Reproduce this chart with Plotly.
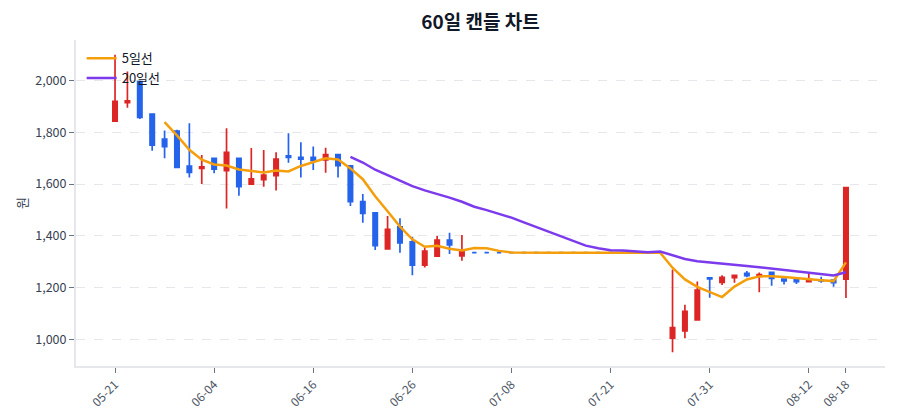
import pandas as pd
import plotly.graph_objects as go

# 거래일 (category axis)
dates = ['05-21', '05-22', '05-23', '05-26', '05-27', '05-28', '05-29', '05-30',
         '06-04', '06-05', '06-06', '06-09', '06-10', '06-11', '06-12', '06-13',
         '06-16', '06-17', '06-18', '06-19', '06-20', '06-23', '06-24', '06-25',
         '06-26', '06-27', '06-30', '07-01', '07-02', '07-03', '07-04', '07-07',
         '07-08', '07-09', '07-10', '07-11', '07-15', '07-16', '07-17', '07-18',
         '07-21', '07-22', '07-23', '07-24', '07-25', '07-28', '07-29', '07-30',
         '07-31', '08-01', '08-04', '08-05', '08-06', '08-07', '08-08', '08-11',
         '08-12', '08-13', '08-14', '08-18']

open_ = [1843, 1915, 1996, 1871, 1774, 1805, 1670, 1661, 1700, 1652,
         1700, 1600, 1617, 1633, 1709, 1703, 1703, 1694, 1714, 1671,
         1532, 1489, 1350, 1435, 1377, 1287, 1322, 1384, 1323, 1335,
         1335, 1335, 1335, 1335, 1335, 1335, 1335, 1335, 1335, 1335,
         1335, 1335, 1335, 1335, 1335, 1005, 1033, 1075, 1238, 1220,
         1238, 1255, 1243, 1259, 1233, 1232, 1223, 1229, 1229, 1233]
high = [2100, 2035, 2000, 1873, 1807, 1810, 1835, 1713, 1702, 1816,
        1702, 1740, 1732, 1723, 1797, 1762, 1745, 1741, 1716, 1673,
        1562, 1492, 1477, 1468, 1397, 1356, 1399, 1412, 1403, 1335,
        1335, 1335, 1335, 1335, 1335, 1335, 1335, 1335, 1335, 1335,
        1335, 1335, 1335, 1335, 1335, 1270, 1134, 1224, 1239, 1248,
        1248, 1264, 1258, 1261, 1234, 1238, 1257, 1242, 1232, 1590]
low = [1843, 1895, 1852, 1729, 1700, 1665, 1626, 1600, 1642, 1506,
       1555, 1597, 1590, 1575, 1683, 1626, 1655, 1644, 1626, 1515,
       1451, 1345, 1348, 1335, 1248, 1278, 1319, 1330, 1304, 1335,
       1335, 1335, 1335, 1335, 1335, 1335, 1335, 1335, 1335, 1335,
       1335, 1335, 1335, 1335, 1335, 950, 1004, 1075, 1161, 1210,
       1219, 1240, 1182, 1207, 1212, 1214, 1222, 1219, 1203, 1160]
close = [1920, 1922, 1858, 1751, 1745, 1665, 1645, 1667, 1658, 1723,
         1590, 1620, 1635, 1697, 1703, 1696, 1691, 1714, 1671, 1532,
         1487, 1362, 1425, 1373, 1287, 1341, 1384, 1365, 1340, 1335,
         1335, 1335, 1335, 1335, 1335, 1335, 1335, 1335, 1335, 1335,
         1335, 1335, 1335, 1335, 1335, 1045, 1108, 1190, 1234, 1240,
         1247, 1246, 1250, 1236, 1226, 1223, 1232, 1226, 1219, 1587]

df = pd.DataFrame({'date': dates, 'open': open_, 'high': high,
                   'low': low, 'close': close})
df['ma5'] = df['close'].rolling(5).mean()
df['ma20'] = df['close'].rolling(20).mean()

RED = '#dc2626'
BLUE = '#2563eb'
FONT = 'Noto Sans CJK KR'

fig = go.Figure()
fig.add_trace(go.Candlestick(
    x=df['date'], open=df['open'], high=df['high'], low=df['low'], close=df['close'],
    increasing=dict(line=dict(color=RED, width=1.7), fillcolor=RED),
    decreasing=dict(line=dict(color=BLUE, width=1.7), fillcolor=BLUE),
    showlegend=False, name='캔들'))
fig.add_trace(go.Scatter(x=df['date'], y=df['ma5'], mode='lines', name='5일선',
                         line=dict(color='#f59e0b', width=2.5)))
fig.add_trace(go.Scatter(x=df['date'], y=df['ma20'], mode='lines', name='20일선',
                         line=dict(color='#7c3aed', width=2.5)))

tick_idx = list(range(0, len(dates), 8)) + [len(dates) - 1]

fig.update_layout(
    width=900, height=420,
    margin=dict(l=68, r=23, t=32, b=62),
    boxgap=0.5,
    paper_bgcolor='white', plot_bgcolor='white',
    font=dict(family=FONT, size=12, color='#374151'),
    title=dict(text='<b>60일 캔들 차트</b>', xref='paper', x=0.5, xanchor='center',
               yref='container', y=0.967, yanchor='middle',
               font=dict(size=19, color='#111827')),
    legend=dict(x=0.007, y=0.99, xanchor='left', yanchor='top',
                bgcolor='rgba(0,0,0,0)', font=dict(size=13, color='#111827')),
    xaxis=dict(type='category', rangeslider=dict(visible=False),
               range=[-3.15, 62.15], automargin=False,
               tickvals=[dates[i] for i in tick_idx], tickangle=-45,
               showgrid=False, showline=True, linecolor='#e5e7eb', linewidth=2,
               ticks='outside', tickcolor='#6b7280', ticklen=5,
               tickfont=dict(size=12, color='#4b5563')),
    yaxis=dict(title=dict(text='원', font=dict(size=13, color='#374151'), standoff=5),
               range=[897, 2157], tickformat=',', dtick=200, automargin=False,
               showgrid=True, gridcolor='#e5e7eb', griddash='dash',
               showline=True, linecolor='#e5e7eb', linewidth=2,
               ticks='outside', tickcolor='#6b7280', ticklen=5,
               zeroline=False, tickfont=dict(size=12.5, color='#374151')),
)

fig.write_html("out.html")
